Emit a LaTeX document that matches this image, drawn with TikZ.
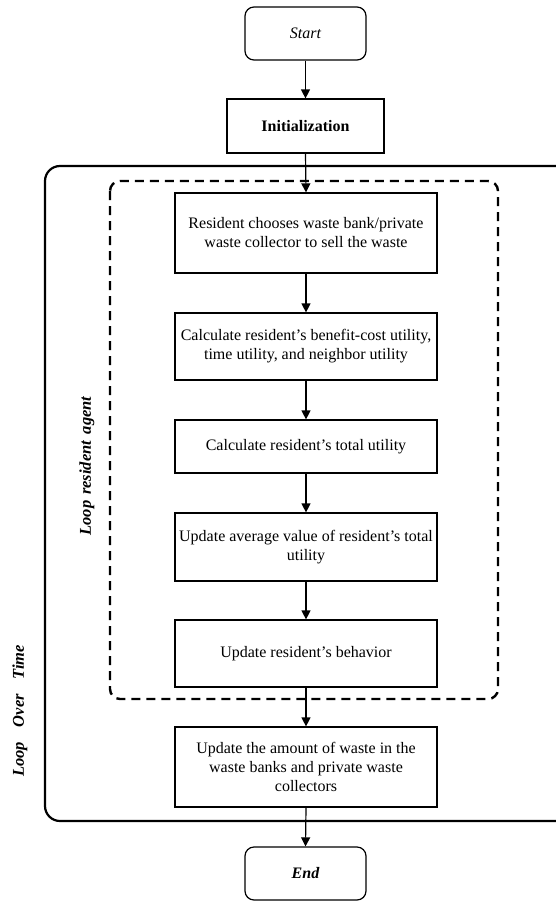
\documentclass[tikz,border=0pt]{standalone}
\usepackage{fontspec}
\setmainfont{Liberation Serif}
\usepackage{tikz}
\usetikzlibrary{arrows.meta, positioning}

\begin{document}
\begin{tikzpicture}[x=1bp, y=-1bp,
    % Base style for all process boxes
    procbox/.style={draw, line width=1.2bp, minimum width=262bp, inner sep=0pt, align=center,
        font=\fontsize{16bp}{19bp}\selectfont, anchor=center},
    % Start / End terminals
    termbox/.style={draw, line width=1.2bp, rounded corners=9bp, minimum width=121bp, minimum height=53bp,
        inner sep=0pt, font=\fontsize{16bp}{19bp}\selectfont\itshape},
    % Loop frames
    timeloop/.style={line width=2.2bp, rounded corners=15bp},
    agentloop/.style={line width=2.4bp, dash pattern=on 9bp off 6bp, rounded corners=10bp},
    looplabel/.style={rotate=90, font=\fontsize{16.5bp}{19bp}\selectfont\bfseries\itshape},
    arrow/.style={-{Triangle[width=9bp, length=9bp]}, line width=1.2bp}
]
\clip (0,0) rectangle (556,901);

% Loop frames
\draw[timeloop] (45,166) rectangle (570,821);
\draw[agentloop] (110,181) rectangle (498,699);
\node[looplabel] (timelabel) at (20,711) {Loop\hspace{0.9em}Over\hspace{0.9em}Time};
\node[looplabel] (agentlabel) at (87,466) {Loop\hspace{0.35em}resident\hspace{0.4em}agent};

% Terminals and process boxes
\node[termbox] (start) at (305.5,33.5) {Start};
\node[procbox, minimum width=157bp, minimum height=54bp, font=\fontsize{16bp}{19bp}\selectfont\bfseries]
    (init) at (305.5,126) {Initialization};
\node[procbox, minimum height=80bp] (choose) at (306,233)
    {Resident chooses waste bank/private\\waste collector to sell the waste};
\node[procbox, minimum height=67bp] (calc) at (306,346.5)
    {Calculate resident's benefit-cost utility,\\time utility, and neighbor utility};
\node[procbox, minimum height=53bp] (total) at (306,446.5) {Calculate resident's total utility};
\node[procbox, minimum height=68bp] (avg) at (306,547)
    {Update average value of resident's total\\utility};
\node[procbox, minimum height=67bp] (behav) at (306,653.5) {Update resident's behavior};
\node[procbox, minimum height=80bp] (amount) at (306,767)
    {Update the amount of waste in the\\waste banks and private waste\\collectors};
\node[termbox, font=\fontsize{16bp}{19bp}\selectfont\bfseries\itshape] (end) at (305.5,873.5) {End};

% Flow arrows
\foreach \a/\b in {start/init, init/choose, choose/calc, calc/total, total/avg, avg/behav, behav/amount, amount/end} {
    \draw[arrow] (\a.south) -- (\b.north);
}

\end{tikzpicture}
\end{document}
